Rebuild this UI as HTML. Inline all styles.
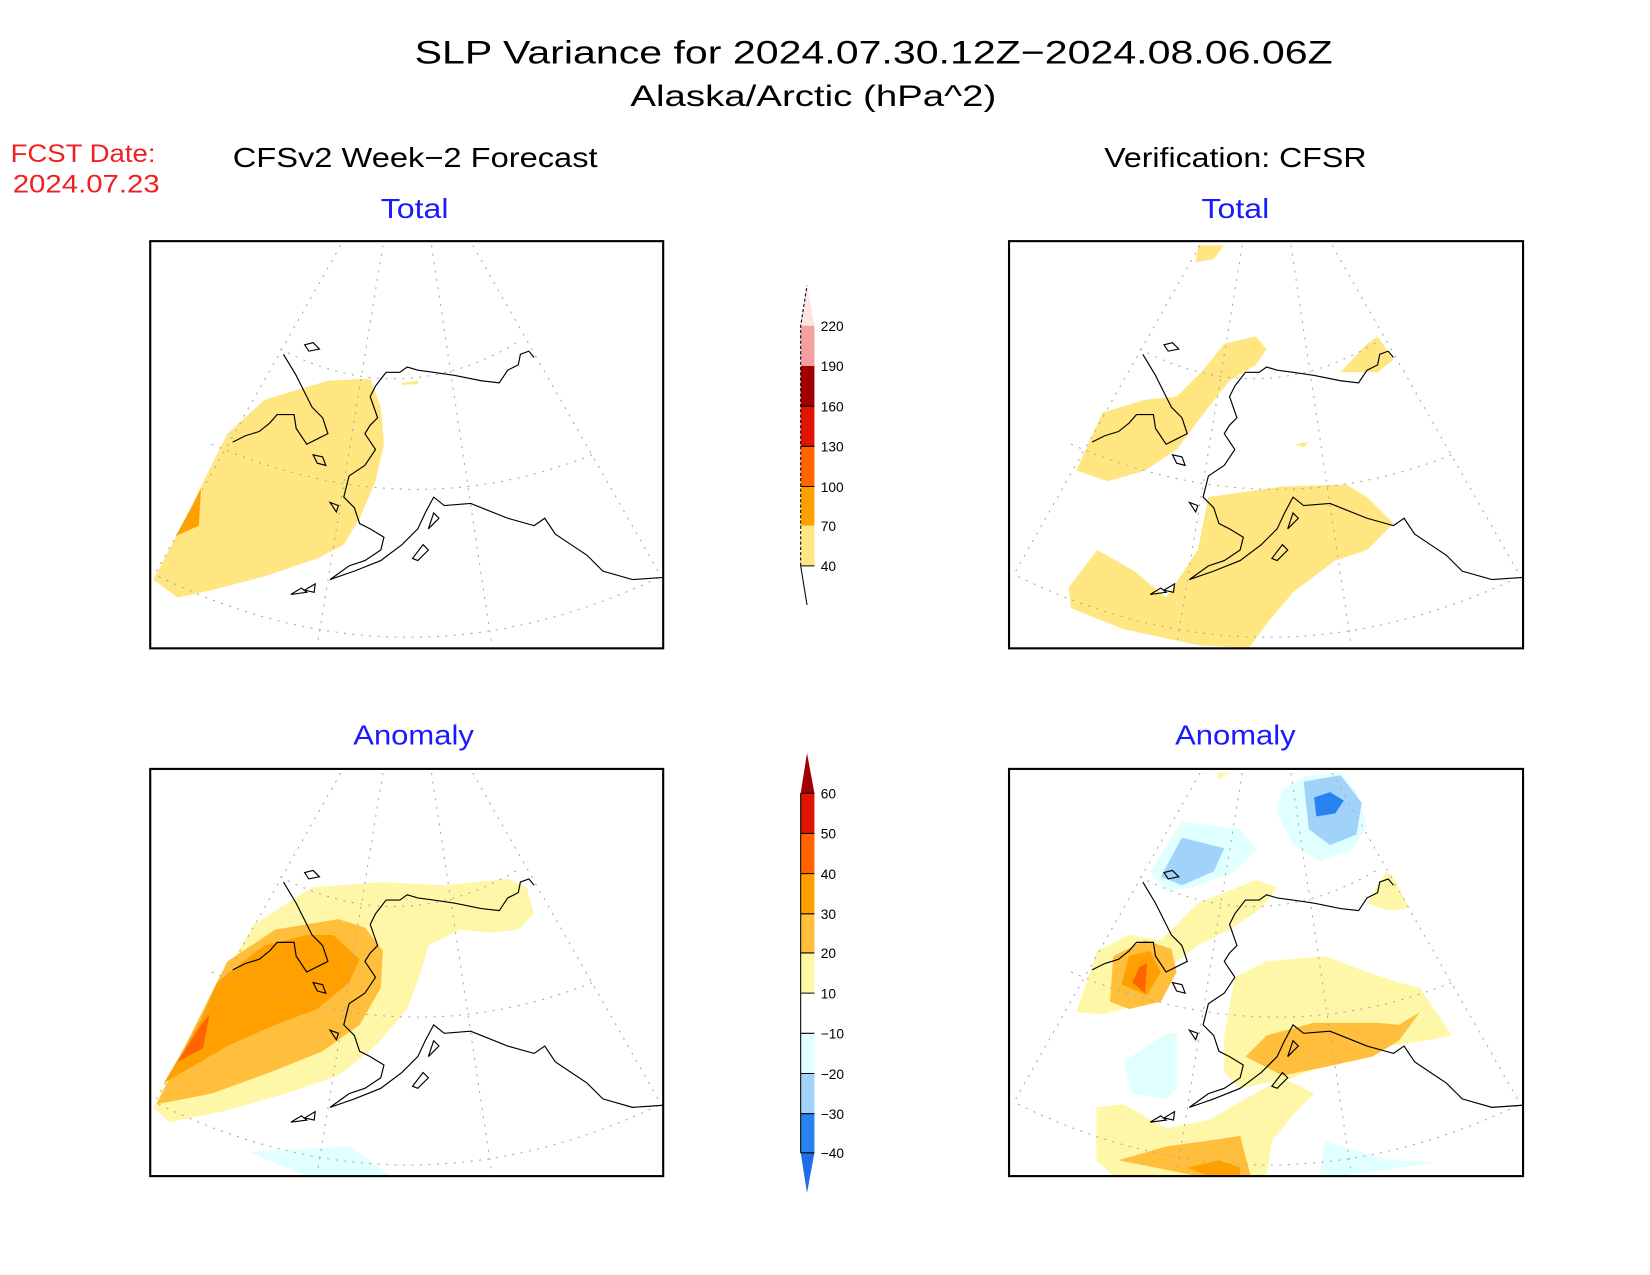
<!DOCTYPE html>
<html><head><meta charset="utf-8"><style>html,body{margin:0;padding:0;background:#fff}svg{display:block}</style></head><body>
<svg width="1650" height="1275" viewBox="0 0 1560 1205.5" xmlns="http://www.w3.org/2000/svg" font-family="Liberation Sans, DejaVu Sans, sans-serif">
<defs>
<g id="grid" fill="none" stroke="#aaa" stroke-width="1" stroke-dasharray="2,6">
<path d="M322,232 L145,545"/><path d="M362,232 L300,610"/><path d="M408,232 L465,610"/><path d="M447,232 L625,545"/>
<path d="M150,545 Q385,660 625,545"/><path d="M200,420 Q385,500 560,430"/><path d="M265,330 Q380,390 492,322"/>
</g>
<g id="coast" fill="none" stroke="#000" stroke-width="1.1">
<path d="M505,338 L500,332 L492,335 L490,345 L480,350 L472,362 L455,360 L430,355 L410,352 L395,350 L385,347 L378,352 L365,352 L355,365 L350,375 L357,395 L350,402 L345,410 L355,425 L345,440 L330,450 L325,470 L335,480 L340,495 L350,500 L363,508 L360,520 L345,530 L330,535 L312,548"/>
<path d="M312,548 L335,540 L360,530 L380,515 L395,500 L402,485 L410,470 L420,478 L445,476 L460,482 L480,490 L505,497 L515,490 L525,505 L540,515 L555,525 L570,540 L598,548 L627,546"/>
<path d="M268,335 L280,355 L290,375 L295,385 L305,395 L310,410 L300,415 L290,420 L280,405 L278,392 L262,392 L255,400 L245,408 L232,412 L220,418"/>
<path d="M288,326 L296,324 L302,330 L292,332 Z"/><path d="M296,430 L305,432 L308,440 L300,438 Z"/><path d="M312,475 L320,478 L318,484 Z"/>
<path d="M275,562 L285,556 L290,560 Z"/><path d="M288,558 L298,552 L297,560 Z"/>
<path d="M390,528 L400,515 L405,520 L395,530 Z"/><path d="M405,500 L410,485 L415,490 Z"/>
</g>
</defs>
<text x="392" y="60" font-size="31" textLength="868" lengthAdjust="spacingAndGlyphs">SLP Variance for 2024.07.30.12Z−2024.08.06.06Z</text>
<text x="596" y="100" font-size="28" textLength="346" lengthAdjust="spacingAndGlyphs">Alaska/Arctic (hPa^2)</text>
<text x="10" y="153" font-size="24" fill="#f02020" textLength="137" lengthAdjust="spacingAndGlyphs">FCST Date:</text>
<text x="12" y="182" font-size="24" fill="#f02020" textLength="139" lengthAdjust="spacingAndGlyphs">2024.07.23</text>
<text x="220" y="158" font-size="26" textLength="345" lengthAdjust="spacingAndGlyphs">CFSv2 Week−2 Forecast</text>
<text x="1044" y="158" font-size="26" textLength="248" lengthAdjust="spacingAndGlyphs">Verification: CFSR</text>
<g font-size="26" fill="#1a1aff">
<text x="360" y="206" textLength="64" lengthAdjust="spacingAndGlyphs">Total</text><text x="1136" y="206" textLength="64" lengthAdjust="spacingAndGlyphs">Total</text>
<text x="334" y="704" textLength="114" lengthAdjust="spacingAndGlyphs">Anomaly</text><text x="1111" y="704" textLength="114" lengthAdjust="spacingAndGlyphs">Anomaly</text></g>

<!-- TL -->
<svg x="142" y="228" width="485" height="385" viewBox="142 228 485 385">
<path fill="#ffe680" d="M145,548 L170,500 L190,460 L215,410 L250,378 L310,360 L350,358 L360,385 L363,420 L355,455 L340,490 L325,515 L300,528 L250,545 L200,558 L168,565 Z"/>
<path fill="#ffa000" d="M166,507 L182,478 L190,462 L188,497 Z"/>
<path fill="#ffe680" d="M380,362 L395,360 L395,363 L380,364 Z"/>
<use href="#grid"/><use href="#coast"/></svg>
<rect x="142" y="228" width="485" height="385" fill="none" stroke="#000" stroke-width="2"/>

<!-- TR -->
<svg x="954" y="228" width="486" height="385" viewBox="142 228 485 385">
<path fill="#ffe680" d="M320,232 L345,232 L335,245 L318,248 Z"/>
<path fill="#ffe680" d="M205,445 L230,390 L270,378 L300,375 L325,350 L345,325 L375,318 L385,330 L375,345 L350,360 L330,385 L300,425 L270,445 L235,455 Z"/>
<path fill="#ffe680" d="M455,352 L480,325 L490,318 L505,340 L490,352 Z"/>
<path fill="#ffe680" d="M412,420 L425,418 L420,423 Z"/>
<path fill="#ffe680" d="M198,555 L225,520 L260,540 L290,565 L320,520 L330,470 L400,460 L460,458 L480,470 L505,495 L480,520 L450,530 L410,560 L385,590 L368,613 L320,610 L250,595 L200,575 Z"/>
<use href="#grid"/><use href="#coast"/></svg>
<rect x="954" y="228" width="486" height="385" fill="none" stroke="#000" stroke-width="2"/>

<!-- BL -->
<svg x="142" y="727" width="485" height="385" viewBox="142 228 485 385">
<path fill="#fff7a8" d="M145,548 L190,460 L240,375 L295,340 L360,335 L420,338 L480,332 L498,340 L505,365 L490,380 L465,383 L435,380 L405,395 L398,420 L385,455 L355,490 L320,518 L270,535 L210,552 L160,562 Z"/>
<path fill="#ffbe3c" d="M148,545 L185,470 L215,410 L260,380 L320,370 L345,378 L362,400 L360,435 L340,470 L305,495 L255,515 L200,535 Z"/>
<path fill="#ffa000" d="M155,525 L190,465 L205,430 L230,410 L250,395 L290,385 L315,385 L340,408 L330,430 L300,455 L260,470 L215,490 Z"/>
<path fill="#ff6400" d="M168,505 L190,470 L198,460 L192,492 Z"/>
<path fill="#e0ffff" d="M235,590 L330,585 L370,613 L290,613 Z"/>
<use href="#grid"/><use href="#coast"/></svg>
<rect x="142" y="727" width="485" height="385" fill="none" stroke="#000" stroke-width="2"/>

<!-- BR -->
<svg x="954" y="727" width="486" height="385" viewBox="142 228 485 385">
<path fill="#fff7a8" d="M338,232 L350,232 L340,238 Z"/>
<path fill="#e0ffff" d="M400,248 L420,235 L455,232 L470,250 L480,282 L465,305 L435,315 L410,300 L395,270 Z"/>
<path fill="#a0d2fa" d="M420,240 L455,234 L475,260 L470,290 L445,300 L425,285 Z"/>
<path fill="#2882f0" d="M430,255 L445,250 L458,258 L450,270 L432,273 Z"/>
<path fill="#e0ffff" d="M275,325 L305,278 L360,285 L375,305 L355,325 L315,340 L290,343 Z"/>
<path fill="#a0d2fa" d="M285,330 L305,293 L345,303 L335,325 L305,338 Z"/>
<path fill="#fff7a8" d="M480,355 L498,325 L505,330 L520,360 L500,362 Z"/>
<path fill="#fff7a8" d="M205,458 L225,400 L255,385 L285,390 L320,355 L375,333 L395,340 L380,360 L350,380 L320,395 L300,410 L280,440 L250,455 L230,460 Z"/>
<path fill="#ffbe3c" d="M237,448 L240,405 L270,390 L295,398 L300,420 L285,448 L255,455 Z"/>
<path fill="#ffa000" d="M248,432 L255,405 L275,400 L285,420 L272,442 Z"/>
<path fill="#ff6400" d="M258,430 L265,415 L272,412 L270,440 Z"/>
<path fill="#e0ffff" d="M250,505 L290,478 L300,478 L300,530 L290,540 L258,535 Z"/>
<path fill="#fff7a8" d="M345,480 L355,425 L385,410 L440,405 L480,420 L510,430 L530,435 L560,480 L535,485 L500,490 L465,500 L435,510 L410,520 L360,530 L345,515 Z"/>
<path fill="#ffbe3c" d="M365,500 L385,480 L430,468 L490,468 L510,470 L530,458 L510,485 L485,500 L440,510 L400,518 Z"/>
<path fill="#fff7a8" d="M224,548 L250,545 L290,568 L330,560 L400,520 L430,535 L410,555 L390,580 L385,613 L240,613 L224,598 Z"/>
<path fill="#ffbe3c" d="M245,598 L290,585 L340,578 L360,575 L370,613 L320,613 Z"/>
<path fill="#ffa000" d="M310,605 L340,598 L360,605 L360,613 L330,613 Z"/>
<path fill="#e0ffff" d="M440,580 L500,598 L545,600 L455,613 L435,613 Z"/>
<use href="#grid"/><use href="#coast"/></svg>
<rect x="954" y="727" width="486" height="385" fill="none" stroke="#000" stroke-width="2"/>

<!-- colorbar 1 -->
<g stroke="none">
<path fill="#ffe4e4" d="M757,308 L763,270 L770,308 Z"/>
<rect x="757" y="308" width="13" height="38" fill="#f4a0a0"/>
<rect x="757" y="346" width="13" height="38" fill="#a00000"/>
<rect x="757" y="384" width="13" height="38" fill="#e01400"/>
<rect x="757" y="422" width="13" height="38" fill="#ff6400"/>
<rect x="757" y="460" width="13" height="37" fill="#ffa000"/>
<rect x="757" y="497" width="13" height="38" fill="#ffe680"/>
</g>
<g stroke="#000" stroke-width="1" fill="none">
<path d="M757,535 L757,308 L763,270" stroke-dasharray="3,2"/><path d="M757,535 L763,572"/>
<path d="M757,384 H770 M757,422 H770 M757,460 H770 M757,535 H770"/></g>
<g font-size="13" fill="#000">
<text x="776" y="313">220</text><text x="776" y="351">190</text><text x="776" y="389">160</text><text x="776" y="427">130</text><text x="776" y="465">100</text><text x="776" y="502">70</text><text x="776" y="540">40</text></g>

<!-- colorbar 2 -->
<path fill="#a00000" d="M757,750 L763,712 L770,750 Z"/>
<rect x="757" y="750" width="13" height="38" fill="#e01400"/>
<rect x="757" y="788" width="13" height="38" fill="#ff6400"/>
<rect x="757" y="826" width="13" height="38" fill="#ffa000"/>
<rect x="757" y="864" width="13" height="37" fill="#ffbe3c"/>
<rect x="757" y="901" width="13" height="38" fill="#fff7a8"/>
<rect x="757" y="977" width="13" height="38" fill="#e0ffff"/>
<rect x="757" y="1015" width="13" height="38" fill="#a0d2fa"/>
<rect x="757" y="1053" width="13" height="37" fill="#2882f0"/>
<path fill="#1e6ee6" d="M757,1090 L763,1128 L770,1090 Z"/>
<g stroke="#000" stroke-width="1"><path d="M757,750 V1090 M757,750 H770 M757,788 H770 M757,826 H770 M757,864 H770 M757,901 H770 M757,939 H770 M757,977 H770 M757,1015 H770 M757,1053 H770 M757,1090 H770"/></g>
<g font-size="13" fill="#000">
<text x="776" y="755">60</text><text x="776" y="793">50</text><text x="776" y="831">40</text><text x="776" y="869">30</text><text x="776" y="906">20</text><text x="776" y="944">10</text><text x="776" y="982">−10</text><text x="776" y="1020">−20</text><text x="776" y="1058">−30</text><text x="776" y="1095">−40</text></g>
</svg>
</body></html>
